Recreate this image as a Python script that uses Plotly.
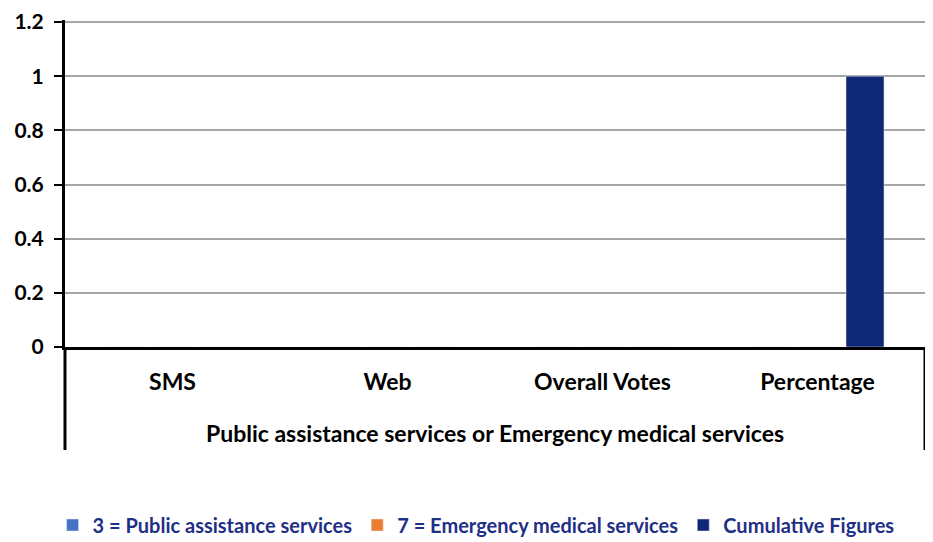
import plotly.graph_objects as go

# ---- data ----
group_label = "Public assistance services or Emergency medical services"
categories = ["SMS", "Web", "Overall Votes", "Percentage"]
public_assistance = [0, 0, 0, 0]
emergency_medical = [0, 0, 0, 0]
cumulative = [0, 0, 0, 1]
y_ticks = [0, 0.2, 0.4, 0.6, 0.8, 1, 1.2]

FONT = "Lato"
# the page body adds an 8px margin, so the figure is drawn 8px smaller
W, H = 925, 534
M_L, M_R, M_T, M_B = 57, 8, 12, 195
PLOT_H = H - M_T - M_B          # 2px headroom above the 1.2 line
Y_TOP = 1.2 * PLOT_H / (PLOT_H - 2)

fig = go.Figure()
fig.add_trace(go.Bar(x=categories, y=public_assistance, name="3 = Public assistance services",
                     marker_color="#4472C4"))
fig.add_trace(go.Bar(x=categories, y=emergency_medical, name="7 = Emergency medical services",
                     marker_color="#ED7D31"))
fig.add_trace(go.Bar(x=categories, y=cumulative, name="Cumulative Figures",
                     marker_color="#0E2876"))

fig.update_layout(
    width=W, height=H,
    margin=dict(l=M_L, r=M_R, t=M_T, b=M_B, autoexpand=False),
    paper_bgcolor="white", plot_bgcolor="white",
    barmode="group", bargap=0.337, bargroupgap=0.2,
    font=dict(family=FONT, color="black"),
    legend=dict(orientation="h", x=0.478, xanchor="center", y=-178 / PLOT_H, yanchor="middle",
                font=dict(size=20, color="#1F2F86", family=FONT, weight="bold"),
                traceorder="normal"),
)

# group label under the category labels (second level of the category axis)
fig.add_annotation(text=group_label, xref="paper", yref="paper", x=0.5, y=-86 / PLOT_H,
                   showarrow=False, yanchor="middle",
                   font=dict(size=23, family=FONT, weight="bold", color="black"))

# vertical dividers at both ends of the category group
for xp in (0, 1):
    fig.add_shape(type="line", xref="paper", yref="paper", x0=xp, x1=xp,
                  y0=0, y1=-103 / PLOT_H, line=dict(color="black", width=3))

fig.update_yaxes(
    range=[0, Y_TOP], tickvals=y_ticks, ticktext=["0", "0.2", "0.4", "0.6", "0.8", "1", "1.2"],
    showgrid=True, gridcolor="#A6A6A6", gridwidth=2,
    showline=True, linecolor="black", linewidth=3,
    ticks="outside", tickcolor="black", tickwidth=2, ticklen=8,
    ticklabelstandoff=6, ticklabeloverflow="allow",
    tickfont=dict(size=21, family=FONT, weight="bold"),
    zeroline=False, automargin=False,
)
fig.update_xaxes(
    type="category",
    showline=True, linecolor="black", linewidth=3,
    ticks="", ticklabelstandoff=12, automargin=False,
    tickfont=dict(size=23, family=FONT, weight="bold"),
)

fig.write_html("out.html")
